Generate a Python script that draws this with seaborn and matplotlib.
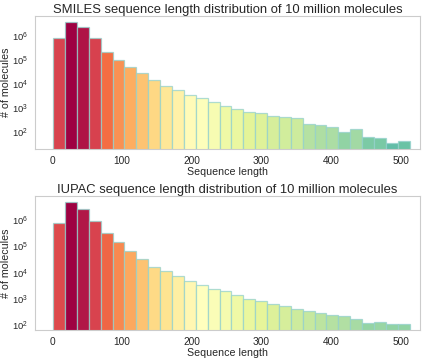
import numpy as np
import pandas as pd
import seaborn as sns
import matplotlib.pyplot as plt
from matplotlib.colors import LogNorm

# bin counts (30 bins between length 1 and 513)
len_min, len_max, n_bins = 1, 513, 30
smiles_counts = [7.9e5, 3.8e6, 2.4e6, 8.3e5, 2.1e5, 9.8e4, 5.3e4, 2.9e4, 1.5e4, 8.6e3,
                 5.5e3, 3.6e3, 2.5e3, 1.8e3, 1.2e3, 940, 660, 600, 470, 425,
                 375, 215, 190, 171, 103, 137, 64, 60, 36, 43]
iupac_counts = [7.9e5, 4.9e6, 2.8e6, 9.7e5, 3.2e5, 1.43e5, 6.9e4, 3.3e4, 1.7e4, 1.18e4,
                7.1e3, 4.8e3, 3.2e3, 2.4e3, 1.9e3, 1350, 980, 810, 620, 535,
                415, 347, 290, 244, 210, 166, 113, 124, 107, 107]
titles = ['SMILES sequence length distribution of 10 million molecules',
          'IUPAC sequence length distribution of 10 million molecules']

sns.set_style('whitegrid')
plt.rcParams['font.family'] = ['Liberation Sans', 'DejaVu Sans']
plt.rcParams['mathtext.fontset'] = 'custom'
plt.rcParams['mathtext.rm'] = 'Liberation Sans'
plt.rcParams['mathtext.it'] = 'Liberation Sans:italic'
plt.rcParams['mathtext.bf'] = 'Liberation Sans:bold'

edges = list(np.linspace(len_min, len_max, n_bins + 1))
centers = [(a + b) / 2 for a, b in zip(edges[:-1], edges[1:])]

fig = plt.figure(figsize=(4.23, 3.58), dpi=100)
ax_top = fig.add_axes([0.083, 0.584, 0.910, 0.372])
ax_bot = fig.add_axes([0.083, 0.078, 0.910, 0.374])

spectral = plt.get_cmap('Spectral_r')

for ax, counts, title in [(ax_top, smiles_counts, titles[0]),
                          (ax_bot, iupac_counts, titles[1])]:
    df = pd.DataFrame({'length': centers, 'count': counts})
    sns.histplot(data=df, x='length', weights='count', bins=edges,
                 ax=ax, edgecolor=(0.58, 0.82, 0.8, 0.75), linewidth=0.9,
                 alpha=1)
    ax.set_yscale('log')
    # colour each bar by its log height
    norm = LogNorm(vmin=2.3, vmax=max(counts))
    for patch, c in zip(ax.patches, counts):
        patch.set_facecolor(spectral(norm(c)))
    ax.grid(False)
    ax.minorticks_off()
    ax.set_xticks([0, 100, 200, 300, 400, 500])
    ax.set_xlim(-25, 528)
    ax.set_title(title, fontsize=9.4, pad=2)
    ax.set_xlabel('Sequence length', fontsize=7.7, labelpad=0.5)
    ax.set_ylabel('# of molecules', fontsize=7.7)
    ax.yaxis.set_label_coords(-0.062, 0.5)
    ax.tick_params(axis='x', labelsize=7.3, pad=1.5)
    ax.tick_params(axis='y', labelsize=6.8, pad=1.5)

plt.savefig('out.png', dpi=100)
